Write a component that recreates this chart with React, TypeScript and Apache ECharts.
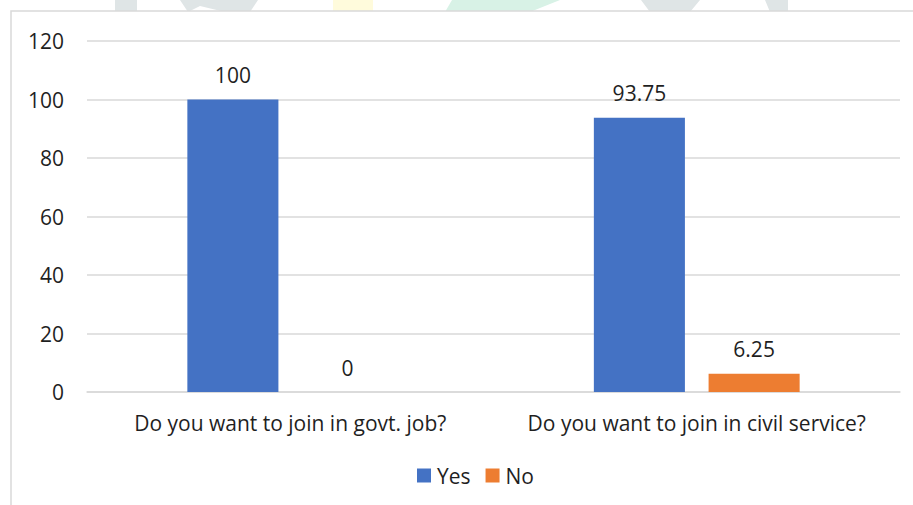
import React, { useEffect, useRef } from "react";
import * as echarts from "echarts";

const categories = ["Do you want to join in govt. job?", "Do you want to join in civil service?"];
const yesValues = [100, 93.75];
const noValues = [0, 6.25];
const seriesNames = ["Yes", "No"];

const FONT = "'Open Sans', 'Noto Sans', sans-serif";
const TXT = "#1f1f1f";
const FS = 21;

export default function App() {
  const ref = useRef<HTMLDivElement>(null);
  useEffect(() => {
    if (!ref.current) return;
    const chart = echarts.init(ref.current, null, { renderer: "svg" });
    chart.setOption({
      animation: false,
      backgroundColor: "#ffffff",
      textStyle: { fontFamily: FONT },
      graphic: [
        { type: "rect", z: -10, shape: { x: 115, y: 0, width: 22, height: 12 }, style: { fill: "#dfe5e6" } },
        { type: "polygon", z: -10, shape: { points: [[180, 0], [258, 0], [250, 12], [225, 12], [200, 6], [188, 12]] }, style: { fill: "#dfe5e6" } },
        { type: "rect", z: -10, shape: { x: 333, y: 0, width: 40, height: 12 }, style: { fill: "#fffbdc" } },
        { type: "polygon", z: -10, shape: { points: [[445, 12], [452, 0], [560, 0], [530, 12]] }, style: { fill: "#d8f2e6" } },
        { type: "polygon", z: -10, shape: { points: [[641, 0], [788, 0], [788, 12], [770, 12], [765, 0], [700, 0], [690, 12], [650, 12]] }, style: { fill: "#dfe5e6" } },
        { type: "rect", z: -5, shape: { x: 11, y: 11, width: 1000, height: 1000 }, style: { fill: "#ffffff", stroke: "#d9d9d9", lineWidth: 1.5 } },
      ],
      grid: { left: 87, right: 13, top: 41, bottom: 113 },
      legend: {
        data: seriesNames,
        bottom: 14,
        left: 412,
        itemWidth: 14,
        itemHeight: 14,
        itemGap: 15,
        icon: "rect",
        textStyle: { fontSize: FS, color: TXT, fontFamily: FONT, padding: [0, 0, 0, 1] },
      },
      xAxis: {
        type: "category",
        data: categories,
        axisLine: { lineStyle: { color: "#d9d9d9", width: 1.5 } },
        axisTick: { show: false },
        axisLabel: { fontSize: FS, color: TXT, margin: 20, fontFamily: FONT, interval: 0 },
      },
      yAxis: {
        type: "value",
        min: 0,
        max: 120,
        interval: 20,
        axisLine: { show: false },
        axisTick: { show: false },
        splitLine: { lineStyle: { color: "#d9d9d9", width: 1.5 } },
        axisLabel: { fontSize: FS, color: TXT, margin: 23, fontFamily: FONT },
      },
      series: [
        {
          name: seriesNames[0],
          type: "bar",
          data: yesValues,
          barWidth: "22.4%",
          barGap: "26%",
          itemStyle: { color: "#4472C4" },
          label: { show: true, position: "top", distance: 14, fontSize: FS, color: TXT, fontFamily: FONT },
        },
        {
          name: seriesNames[1],
          type: "bar",
          data: noValues,
          barWidth: "22.4%",
          barGap: "26%",
          itemStyle: { color: "#ED7D31" },
          label: { show: true, position: "top", distance: 14, fontSize: FS, color: TXT, fontFamily: FONT },
        },
      ],
    });
    return () => chart.dispose();
  }, []);
  return <div ref={ref} style={{ position: "fixed", left: 0, top: 0, width: 913, height: 505 }} />;
}
